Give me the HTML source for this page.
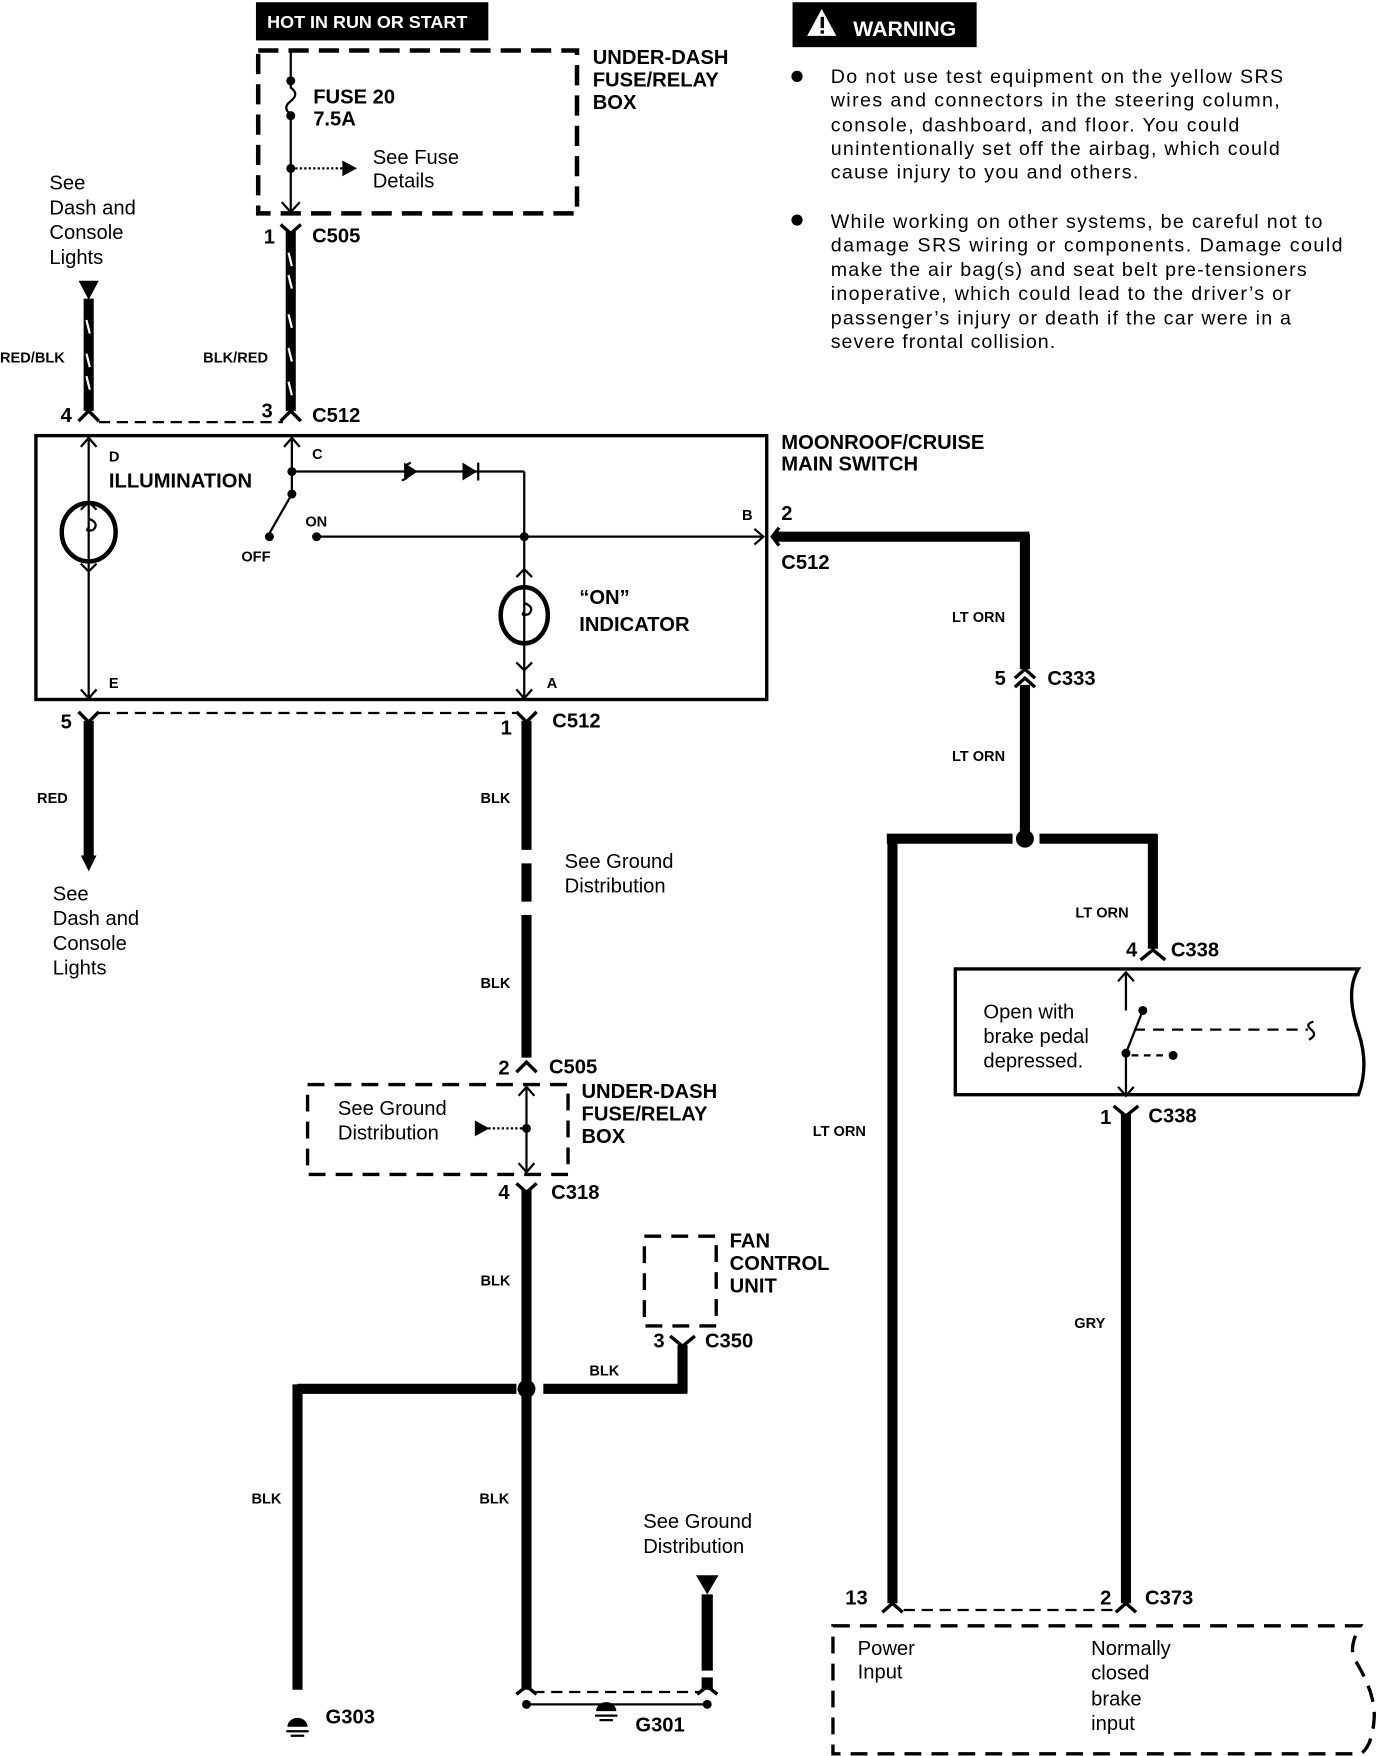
<!DOCTYPE html>
<html><head><meta charset="utf-8"><style>
html,body{margin:0;padding:0;background:#fff}
svg{display:block}
text{font-family:"Liberation Sans",Arial,sans-serif;fill:#000}
.b{font-weight:bold}
.w{font-size:13px;font-weight:bold}
.l{font-size:18px;font-weight:bold}
.n{font-size:18px}
.t{font-size:17.5px}
</style></head><body>
<svg width="1392" height="1756" viewBox="0 0 1240 1564" preserveAspectRatio="none" xmlns="http://www.w3.org/2000/svg">
<g fill="none" stroke="#000">
<!-- top fuse box -->
<rect x="228" y="2" width="207" height="34" fill="#000" stroke="none"/>
<rect x="230" y="45" width="284" height="145" stroke-width="4" stroke-dasharray="18,9"/>
<line x1="259" y1="45" x2="259" y2="72" stroke-width="2"/>
<path d="M259 72 v6 q8 6 0 12 q-8 6 0 12" stroke-width="2"/>
<line x1="259" y1="103" x2="259" y2="188" stroke-width="2"/>
<path d="M251 180 l8 9 l8 -9" stroke-width="2"/>
<line x1="259" y1="150" x2="305" y2="150" stroke-width="2" stroke-dasharray="2,2"/>
<!-- C505 top -->
<path d="M250 200 l9 8 l9 -8" stroke-width="3"/>
<line x1="259" y1="206" x2="259" y2="366" stroke-width="9"/>
<path d="M250 375 l9 -9 l9 9" stroke-width="3"/>
<!-- left wire -->
<line x1="79" y1="266" x2="79" y2="366" stroke-width="9"/>
<path d="M70 375 l9 -9 l9 9" stroke-width="3"/>
<line x1="88" y1="376" x2="252" y2="376" stroke-width="2" stroke-dasharray="10,6"/>
<!-- main box -->
<rect x="32" y="388" width="651" height="235" stroke-width="3"/>
<line x1="79" y1="390" x2="79" y2="622" stroke-width="2"/>
<path d="M72 398 l7 -8 l7 8 M72 454 l7 -7 l7 7 M72 502 l7 7 l7 -7 M72 614 l7 8 l7 -8" stroke-width="2"/>
<ellipse cx="79" cy="474" rx="24" ry="26" stroke-width="4"/>
<path d="M79 462 q10 4 4 10 q-8 2 -4 -2" stroke-width="2"/>
<line x1="260" y1="390" x2="260" y2="440" stroke-width="2"/>
<path d="M253 398 l7 -8 l7 8" stroke-width="2"/>
<line x1="260" y1="440" x2="240" y2="475" stroke-width="2"/>
<line x1="262" y1="420" x2="467" y2="420" stroke-width="2"/>
<line x1="467" y1="420" x2="467" y2="622" stroke-width="2"/>
<line x1="282" y1="478" x2="680" y2="478" stroke-width="2"/>
<path d="M672 471 l8 7 l-8 7" stroke-width="2"/>
<path d="M460 514 l7 -7 l7 7 M460 590 l7 7 l7 -7 M460 614 l7 8 l7 -8" stroke-width="2"/>
<ellipse cx="467" cy="548" rx="21" ry="25" stroke-width="4"/>
<path d="M467 537 q10 4 4 10 q-8 2 -4 -2" stroke-width="2"/>
<path d="M358 428 l4 -2 v-12 l4 -2" stroke-width="2"/>
<!-- bottom C512 -->
<path d="M70 634 l9 9 l9 -9 M460 634 l9 9 l9 -9" stroke-width="3"/>
<line x1="88" y1="635" x2="460" y2="635" stroke-width="2" stroke-dasharray="10,6"/>
<line x1="79" y1="642" x2="79" y2="762" stroke-width="9"/>
<line x1="469" y1="642" x2="469" y2="757" stroke-width="9"/>
<line x1="469" y1="769" x2="469" y2="803" stroke-width="9"/>
<line x1="469" y1="815" x2="469" y2="942" stroke-width="9"/>
<path d="M460 955 l9 -9 l9 9" stroke-width="3"/>
<rect x="274" y="966" width="232" height="80" stroke-width="3" stroke-dasharray="15,9"/>
<line x1="469" y1="968" x2="469" y2="1044" stroke-width="2"/>
<path d="M462 976 l7 -8 l7 8 M462 1036 l7 8 l7 -8" stroke-width="2"/>
<line x1="435" y1="1005" x2="469" y2="1005" stroke-width="2" stroke-dasharray="2,2"/>
<path d="M460 1054 l9 8 l9 -8" stroke-width="3"/>
<line x1="469" y1="1060" x2="469" y2="1505" stroke-width="9"/>
<line x1="265" y1="1237" x2="460" y2="1237" stroke-width="9"/>
<line x1="484" y1="1237" x2="612" y2="1237" stroke-width="9"/>
<line x1="265" y1="1233" x2="265" y2="1505" stroke-width="9"/>
<line x1="608" y1="1198" x2="608" y2="1241" stroke-width="9"/>
<path d="M597 1190 l11 9 l11 -9" stroke-width="3"/>
<rect x="574" y="1101" width="64" height="80" stroke-width="3" stroke-dasharray="15,9"/>
<line x1="630" y1="1420" x2="630" y2="1488" stroke-width="10"/>
<line x1="630" y1="1494" x2="630" y2="1505" stroke-width="10"/>
<path d="M460 1509 l9 -7 l9 7 M621 1509 l9 -7 l9 7" stroke-width="3"/>
<line x1="475" y1="1507" x2="625" y2="1507" stroke-width="2" stroke-dasharray="10,6"/>
<line x1="469" y1="1518" x2="630" y2="1518" stroke-width="2"/>
<path d="M255 1542 h20 M259 1546 h12" stroke-width="2"/>
<path d="M530 1528 h20 M534 1532 h12" stroke-width="2"/>
<!-- right side -->
<line x1="690" y1="478" x2="917" y2="478" stroke-width="9"/>
<path d="M694 470 l-6 8 l6 8" stroke-width="3"/>
<line x1="913" y1="476" x2="913" y2="596" stroke-width="9"/>
<path d="M904 604 l9 -8 l9 8 M904 612 l9 -8 l9 8" stroke-width="3"/>
<line x1="913" y1="610" x2="913" y2="745" stroke-width="9"/>
<line x1="790" y1="747" x2="902" y2="747" stroke-width="9"/>
<line x1="926" y1="747" x2="1031" y2="747" stroke-width="9"/>
<line x1="795" y1="743" x2="795" y2="1428" stroke-width="9"/>
<line x1="1027" y1="743" x2="1027" y2="845" stroke-width="9"/>
<path d="M1016 855 l11 -9 l11 9" stroke-width="3"/>
<path d="M851 863 H1210 q-12 20 0 56 q10 30 0 56 H851 Z" stroke-width="3"/>
<line x1="1003" y1="866" x2="1003" y2="900" stroke-width="2"/>
<path d="M996 874 l7 -8 l7 8 M996 968 l7 8 l7 -8" stroke-width="2"/>
<line x1="1018" y1="900" x2="1003" y2="938" stroke-width="2"/>
<line x1="1003" y1="938" x2="1003" y2="975" stroke-width="2"/>
<line x1="1010" y1="917" x2="1165" y2="917" stroke-width="2" stroke-dasharray="10,7"/>
<path d="M1170 910 q-8 2 -2 7 q6 5 -2 9" stroke-width="2"/>
<line x1="1008" y1="940" x2="1040" y2="940" stroke-width="2" stroke-dasharray="6,5"/>
<path d="M992 985 l11 9 l11 -9" stroke-width="3"/>
<line x1="1003" y1="992" x2="1003" y2="1428" stroke-width="9"/>
<path d="M786 1436 l9 -8 l9 8 M994 1436 l9 -8 l9 8" stroke-width="3"/>
<line x1="805" y1="1434" x2="995" y2="1434" stroke-width="2" stroke-dasharray="10,6"/>
<path d="M742 1448 H1212 q-12 20 -4 32 q18 30 16 52 q-2 24 -12 30 H742 Z" stroke-width="3" stroke-dasharray="15,9"/>
</g>
<g fill="#000">
<polygon points="70,250 88,250 79,267"/>
<polygon points="72,762 86,762 79,776"/>
<polygon points="620,1403 640,1403 630,1420"/>
<polygon points="305,143 305,157 318,150"/>
<polygon points="423,998 423,1012 436,1005"/>
<circle cx="259" cy="72" r="4"/><circle cx="259" cy="103" r="4"/><circle cx="259" cy="150" r="4"/>
<circle cx="260" cy="420" r="4"/><circle cx="260" cy="440" r="4"/><circle cx="240" cy="478" r="4"/><circle cx="282" cy="478" r="4"/>
<circle cx="467" cy="478" r="4"/><circle cx="469" cy="1005" r="4"/>
<polygon points="360,412 360,428 372,420"/>
<polygon points="412,412 412,428 425,420"/><rect x="425" y="412" width="2" height="16"/>
<circle cx="913" cy="747" r="8"/><circle cx="469" cy="1237" r="8"/>
<circle cx="1018" cy="900" r="4"/><circle cx="1003" cy="938" r="4"/><circle cx="1045" cy="940" r="4"/>
<circle cx="469" cy="1518" r="4"/><circle cx="630" cy="1518" r="4"/>
<path d="M256 1538 a9 8 0 0 1 18 0 z"/><path d="M531 1524 a9 8 0 0 1 18 0 z"/>
<rect x="706" y="2" width="164" height="40"/>
<polygon points="732,8 719,32 745,32" fill="#fff"/>
<rect x="731" y="15" width="3" height="10"/><rect x="731" y="27" width="3" height="3"/>
<circle cx="710" cy="68" r="5"/><circle cx="710" cy="196" r="5"/>
</g>
<g stroke="#fff" stroke-width="2">
<path d="M257 225 l3 12 M257 245 l3 12 M257 280 l3 12 M257 310 l3 12 M257 340 l3 12 M77 285 l3 12 M77 315 l3 12 M77 335 l3 12"/>
</g>
<text x="238" y="25" class="b" font-size="16" fill="#fff" style="fill:#fff">HOT IN RUN OR START</text>
<text x="760" y="32" class="b" font-size="19" style="fill:#fff">WARNING</text>
<text x="279" y="92" class="l">FUSE 20</text>
<text x="279" y="112" class="l">7.5A</text>
<text x="332" y="146" class="n">See Fuse</text>
<text x="332" y="167" class="n">Details</text>
<text x="528" y="57" class="l">UNDER-DASH</text>
<text x="528" y="77" class="l">FUSE/RELAY</text>
<text x="528" y="97" class="l">BOX</text>
<text x="44" y="169" class="n">See</text>
<text x="44" y="191" class="n">Dash and</text>
<text x="44" y="213" class="n">Console</text>
<text x="44" y="235" class="n">Lights</text>
<text x="235" y="217" class="l">1</text><text x="278" y="216" class="l">C505</text>
<text x="0" y="323" class="w">RED/BLK</text>
<text x="181" y="323" class="w">BLK/RED</text>
<text x="54" y="376" class="l">4</text><text x="233" y="372" class="l">3</text><text x="278" y="376" class="l">C512</text>
<text x="97" y="411" class="w">D</text>
<text x="97" y="434" class="l">ILLUMINATION</text>
<text x="278" y="409" class="w">C</text>
<text x="272" y="469" class="w">ON</text>
<text x="215" y="500" class="w">OFF</text>
<text x="661" y="463" class="w">B</text>
<text x="516" y="538" class="l">“ON”</text>
<text x="516" y="562" class="l">INDICATOR</text>
<text x="97" y="613" class="w">E</text>
<text x="487" y="613" class="w">A</text>
<text x="696" y="400" class="l">MOONROOF/CRUISE</text>
<text x="696" y="419" class="l">MAIN SWITCH</text>
<text x="696" y="463" class="l">2</text>
<text x="696" y="507" class="l">C512</text>
<text x="54" y="649" class="l">5</text><text x="446" y="654" class="l">1</text><text x="492" y="648" class="l">C512</text>
<text x="33" y="715" class="w">RED</text>
<text x="428" y="715" class="w">BLK</text>
<text x="47" y="802" class="n">See</text>
<text x="47" y="824" class="n">Dash and</text>
<text x="47" y="846" class="n">Console</text>
<text x="47" y="868" class="n">Lights</text>
<text x="503" y="773" class="n">See Ground</text>
<text x="503" y="795" class="n">Distribution</text>
<text x="428" y="880" class="w">BLK</text>
<text x="444" y="957" class="l">2</text><text x="489" y="956" class="l">C505</text>
<text x="301" y="993" class="n">See Ground</text>
<text x="301" y="1015" class="n">Distribution</text>
<text x="518" y="978" class="l">UNDER-DASH</text>
<text x="518" y="998" class="l">FUSE/RELAY</text>
<text x="518" y="1018" class="l">BOX</text>
<text x="444" y="1068" class="l">4</text><text x="491" y="1068" class="l">C318</text>
<text x="650" y="1111" class="l">FAN</text>
<text x="650" y="1131" class="l">CONTROL</text>
<text x="650" y="1151" class="l">UNIT</text>
<text x="428" y="1145" class="w">BLK</text>
<text x="582" y="1200" class="l">3</text><text x="628" y="1200" class="l">C350</text>
<text x="525" y="1225" class="w">BLK</text>
<text x="224" y="1339" class="w">BLK</text>
<text x="427" y="1339" class="w">BLK</text>
<text x="573" y="1361" class="n">See Ground</text>
<text x="573" y="1383" class="n">Distribution</text>
<text x="290" y="1535" class="l">G303</text>
<text x="566" y="1542" class="l">G301</text>
<text x="848" y="554" class="w">LT ORN</text>
<text x="886" y="610" class="l">5</text><text x="933" y="610" class="l">C333</text>
<text x="848" y="678" class="w">LT ORN</text>
<text x="958" y="817" class="w">LT ORN</text>
<text x="1003" y="852" class="l">4</text><text x="1043" y="852" class="l">C338</text>
<text x="876" y="907" class="n">Open with</text>
<text x="876" y="929" class="n">brake pedal</text>
<text x="876" y="951" class="n">depressed.</text>
<text x="980" y="1001" class="l">1</text><text x="1023" y="1000" class="l">C338</text>
<text x="724" y="1012" class="w">LT ORN</text>
<text x="957" y="1183" class="w">GRY</text>
<text x="753" y="1429" class="l">13</text><text x="980" y="1429" class="l">2</text><text x="1020" y="1429" class="l">C373</text>
<text x="764" y="1474" class="n">Power</text>
<text x="764" y="1495" class="n">Input</text>
<text x="972" y="1474" class="n">Normally</text>
<text x="972" y="1496" class="n">closed</text>
<text x="972" y="1519" class="n">brake</text>
<text x="972" y="1541" class="n">input</text>
<g class="t">
<text x="740" y="74" class="t" textLength="403">Do not use test equipment on the yellow SRS</text>
<text x="740" y="95" class="t" textLength="400">wires and connectors in the steering column,</text>
<text x="740" y="117" class="t" textLength="364">console, dashboard, and floor. You could</text>
<text x="740" y="138" class="t" textLength="400">unintentionally set off the airbag, which could</text>
<text x="740" y="159" class="t" textLength="274">cause injury to you and others.</text>
<text x="740" y="203" class="t" textLength="438">While working on other systems, be careful not to</text>
<text x="740" y="224" class="t" textLength="456">damage SRS wiring or components. Damage could</text>
<text x="740" y="246" class="t" textLength="424">make the air bag(s) and seat belt pre-tensioners</text>
<text x="740" y="267" class="t" textLength="410">inoperative, which could lead to the driver’s or</text>
<text x="740" y="289" class="t" textLength="410">passenger’s injury or death if the car were in a</text>
<text x="740" y="310" class="t" textLength="200">severe frontal collision.</text>
</g>
</svg>
</body></html>
